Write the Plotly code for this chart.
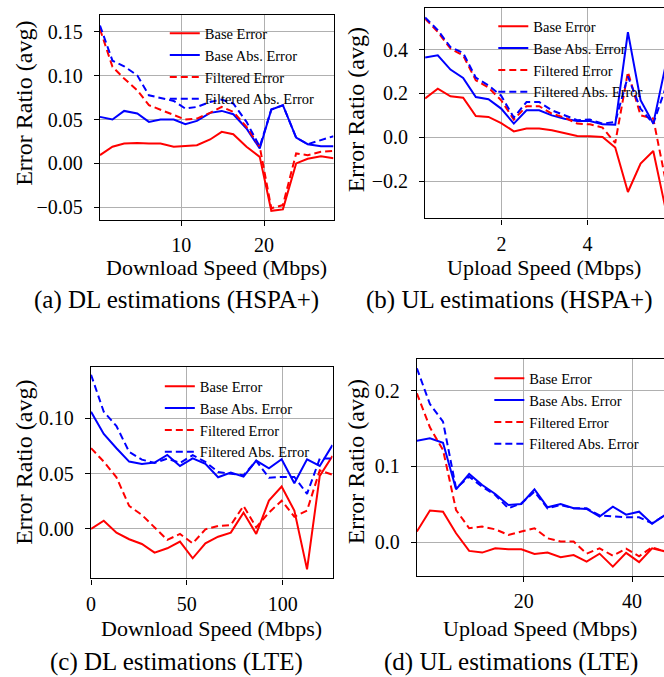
import plotly.graph_objects as go

W, H = 664, 677

# ---------------- data ----------------
a_x = [0.16, 1.67, 3.08, 4.67, 6.08, 7.48, 9.08, 10.48, 11.88, 13.48, 14.88, 16.28, 17.88, 19.48, 20.88, 22.28, 23.88, 25.28, 26.88, 28.4]
a_base_err = [0.0094, 0.019, 0.0227, 0.0234, 0.0227, 0.0227, 0.019, 0.0197, 0.0208, 0.0273, 0.036, 0.0333, 0.019, 0.0075, -0.0539, -0.0523, 0.0, 0.0053, 0.0083, 0.006]
a_base_abs = [0.053, 0.05, 0.0598, 0.0568, 0.0473, 0.05, 0.05, 0.0447, 0.0485, 0.0576, 0.0598, 0.056, 0.0398, 0.017, 0.0614, 0.0663, 0.0295, 0.0219, 0.0197, 0.0197]
a_filt_err = [0.153, 0.11, 0.0966, 0.0833, 0.0663, 0.0614, 0.0549, 0.05, 0.0511, 0.0576, 0.0643, 0.0587, 0.0416, 0.019, -0.0511, -0.0474, 0.0114, 0.0094, 0.0132, 0.0144]
a_filt_abs = [0.157, 0.117, 0.1106, 0.1003, 0.0776, 0.075, 0.0712, 0.0625, 0.0643, 0.07, 0.0727, 0.0682, 0.0473, 0.019, 0.0614, 0.0663, 0.0295, 0.0219, 0.0265, 0.031]

b_x = [0.22, 0.515, 0.81, 1.105, 1.4, 1.695, 1.99, 2.285, 2.58, 2.875, 3.17, 3.465, 3.76, 4.055, 4.35, 4.645, 4.94, 5.235, 5.53, 5.825]
b_base_err = [0.177, 0.222, 0.187, 0.181, 0.097, 0.093, 0.065, 0.027, 0.04, 0.04, 0.032, 0.02, 0.006, 0.005, 0.001, -0.047, -0.25, -0.12, -0.063, -0.335]
b_base_abs = [0.364, 0.374, 0.309, 0.271, 0.184, 0.174, 0.131, 0.0625, 0.123, 0.123, 0.1, 0.085, 0.074, 0.074, 0.059, 0.057, 0.48, 0.169, 0.0625, 0.335]
b_filt_err = [0.542, 0.481, 0.405, 0.374, 0.26, 0.227, 0.169, 0.081, 0.142, 0.142, 0.108, 0.09, 0.0625, 0.059, 0.044, -0.026, 0.298, 0.1, 0.085, -0.205]
b_filt_abs = [0.547, 0.489, 0.412, 0.385, 0.272, 0.237, 0.19, 0.09, 0.161, 0.161, 0.123, 0.1, 0.078, 0.081, 0.0625, 0.07, 0.278, 0.13, 0.0625, 0.23]

c_x = [0, 6.63, 13.26, 19.89, 26.52, 33.15, 39.78, 46.41, 53.04, 59.67, 66.3, 72.93, 79.56, 86.19, 92.82, 99.45, 106.08, 112.71, 119.34, 125.97]
c_base_err = [0.0, 0.0075, -0.0033, -0.0093, -0.0136, -0.0214, -0.0175, -0.0114, -0.0265, -0.013, -0.007, -0.0033, 0.0148, -0.0045, 0.0256, 0.0383, 0.0166, -0.0365, 0.048, 0.066]
c_base_abs = [0.106, 0.0859, 0.073, 0.0609, 0.0588, 0.06, 0.0669, 0.057, 0.0639, 0.0588, 0.0467, 0.0509, 0.0473, 0.0618, 0.0549, 0.063, 0.0413, 0.063, 0.057, 0.0758]
c_filt_err = [0.073, 0.0609, 0.0467, 0.0208, 0.0127, 0.0015, -0.0099, -0.0045, -0.013, -0.0003, 0.0027, 0.0036, 0.0208, 0.0015, 0.0148, 0.0256, 0.0111, 0.0166, 0.053, 0.049]
c_filt_abs = [0.1394, 0.106, 0.093, 0.0697, 0.0627, 0.0597, 0.0636, 0.0597, 0.0667, 0.0606, 0.0515, 0.05, 0.0485, 0.0615, 0.0464, 0.047, 0.047, 0.0318, 0.0636, 0.0636]

d_x = [0.24, 2.65, 5.07, 7.48, 9.9, 12.31, 14.72, 17.14, 19.55, 21.97, 24.38, 26.8, 29.2, 31.6, 34.0, 36.45, 38.9, 41.3, 43.7, 46.1]
d_base_err = [0.0141, 0.0418, 0.0404, 0.0119, -0.0114, -0.0136, -0.0079, -0.0092, -0.0092, -0.0154, -0.0136, -0.0198, -0.0168, -0.0255, -0.015, -0.0321, -0.014, -0.0262, -0.0079, -0.012]
d_base_abs = [0.134, 0.1371, 0.1314, 0.0699, 0.0901, 0.0756, 0.0637, 0.0492, 0.0505, 0.0699, 0.0462, 0.0505, 0.0448, 0.044, 0.034, 0.047, 0.0365, 0.0404, 0.0245, 0.036]
d_filt_err = [0.1965, 0.1516, 0.1218, 0.0426, 0.0185, 0.0207, 0.0171, 0.0097, 0.0141, 0.0185, 0.0053, 0.0009, 0.0009, -0.015, -0.0079, -0.0178, -0.0085, -0.0185, -0.0066, -0.0124]
d_filt_abs = [0.2295, 0.1824, 0.1591, 0.0712, 0.0866, 0.0734, 0.0624, 0.0448, 0.0514, 0.0668, 0.0448, 0.0492, 0.0448, 0.0448, 0.0355, 0.0338, 0.033, 0.033, 0.025, 0.036]

series_names = ["Base Error", "Base Abs. Error", "Filtered Error", "Filtered Abs. Error"]
captions = ["(a) DL estimations (HSPA+)", "(b) UL estimations (HSPA+)",
            "(c) DL estimations (LTE)", "(d) UL estimations (LTE)"]
xtitles = ["Download Speed (Mbps)", "Upload Speed (Mbps)", "Download Speed (Mbps)", "Upload Speed (Mbps)"]
ytitle = "Error Ratio (avg)"

# ---------------- styling / layout ----------------
FONT = "Liberation Serif, Times New Roman, serif"
TICK = 20
XTITLE = 22
YTITLE = 24
LEG = 14.5
CAP = 25
RED, BLUE = "#ff0000", "#0000ff"
GRID = "#b0b0b0"

def px2x(p): return p / W
def px2y(p): return 1 - p / H

panels = [
    dict(x=a_x, ys=[a_base_err, a_base_abs, a_filt_err, a_filt_abs],
         box=(95.7, 331, 15, 220), xr=[0.16, 28.4], yr=[-0.0644, 0.169],
         xt=[10, 20], yt=[-0.05, 0, 0.05, 0.10, 0.15], yfmt=".2f", right=True,
         leg=(168, 29.3), xtc=(213, 268), ytc=(19, 103), cap=(173, 300)),
    dict(x=b_x, ys=[b_base_err, b_base_abs, b_filt_err, b_filt_abs],
         box=(423.3, 664, 8.3, 218.3), xr=[0.22, 5.78], yr=[-0.37, 0.589],
         xt=[2, 4], yt=[-0.2, 0, 0.2, 0.4], yfmt=".1f", right=False,
         leg=(499, 22.3), xtc=(543, 268), ytc=(354, 110), cap=(508, 300)),
    dict(x=c_x, ys=[c_base_err, c_base_abs, c_filt_err, c_filt_abs],
         box=(86.7, 330, 366.7, 578.3), xr=[0, 126], yr=[-0.0446, 0.1467],
         xt=[0, 50, 100], yt=[0, 0.05, 0.10], yfmt=".2f", right=True,
         leg=(163, 382.3), xtc=(208, 628), ytc=(19, 462), cap=(173, 662)),
    dict(x=d_x, ys=[d_base_err, d_base_abs, d_filt_err, d_filt_abs],
         box=(415, 664, 359, 576), xr=[0.24, 45.9], yr=[-0.0445, 0.2418],
         xt=[20, 40], yt=[0, 0.1, 0.2], yfmt=".1f", right=False,
         leg=(495, 374.3), xtc=(539, 628), ytc=(354, 462), cap=(510, 662)),
]

styles = [(RED, "solid"), (BLUE, "solid"), (RED, "7px,4px"), (BLUE, "7px,4px")]

fig = go.Figure()
layout = dict(width=W, height=H, margin=dict(l=0, r=0, t=0, b=0, pad=0),
              paper_bgcolor="white", plot_bgcolor="white",
              font=dict(family=FONT, color="black", size=TICK))
annotations = []

for k, p in enumerate(panels):
    n = "" if k == 0 else str(k + 1)
    xa, ya = "x" + n, "y" + n
    legname = "legend" + n
    for s in range(4):
        color, dash = styles[s]
        fig.add_trace(go.Scatter(
            x=p["x"], y=p["ys"][s], mode="lines", name=series_names[s],
            line=dict(color=color, width=2, dash=dash),
            xaxis=xa, yaxis=ya, legend=legname, showlegend=True, cliponaxis=True))
    x0, x1, y0, y1 = p["box"]
    axis_common = dict(showgrid=True, gridcolor=GRID, gridwidth=1.3, zeroline=False,
                       showline=True, linecolor="black", linewidth=1.4,
                       ticks="outside", ticklen=5, tickwidth=1.2, tickcolor="black",
                       tickfont=dict(family=FONT, size=TICK, color="black"))
    layout["xaxis" + n] = dict(axis_common, domain=[px2x(x0), min(1.0, px2x(x1))],
                               range=p["xr"], tickvals=p["xt"], anchor=ya, mirror=True,
                               ticklabelstandoff=2)
    layout["yaxis" + n] = dict(axis_common, domain=[px2y(y1), px2y(y0)],
                               range=p["yr"], tickvals=p["yt"], tickformat=p["yfmt"],
                               anchor=xa, mirror=p["right"], ticklabelstandoff=7)
    lx, ly = p["leg"]
    layout[legname] = dict(x=px2x(lx - 7), y=px2y(ly - 12), xanchor="left", yanchor="top",
                           xref="paper", yref="paper",
                           bgcolor="rgba(0,0,0,0)", borderwidth=0, tracegroupgap=0,
                           font=dict(family=FONT, size=LEG, color="black"))
    annotations.append(dict(text=xtitles[k], x=px2x(p["xtc"][0]), y=px2y(p["xtc"][1]),
                            xref="paper", yref="paper", showarrow=False,
                            xanchor="center", yanchor="middle",
                            font=dict(family=FONT, size=XTITLE, color="black")))
    annotations.append(dict(text=ytitle, x=px2x(p["ytc"][0]), y=px2y(p["ytc"][1]),
                            xref="paper", yref="paper", showarrow=False, textangle=-90,
                            xanchor="center", yanchor="middle",
                            font=dict(family=FONT, size=YTITLE, color="black")))
    annotations.append(dict(text=captions[k], x=px2x(p["cap"][0]), y=px2y(p["cap"][1]),
                            xref="paper", yref="paper", showarrow=False,
                            xanchor="center", yanchor="middle",
                            font=dict(family=FONT, size=CAP, color="black")))

layout["annotations"] = annotations
fig.update_layout(**layout)
fig.write_html("out.html")
